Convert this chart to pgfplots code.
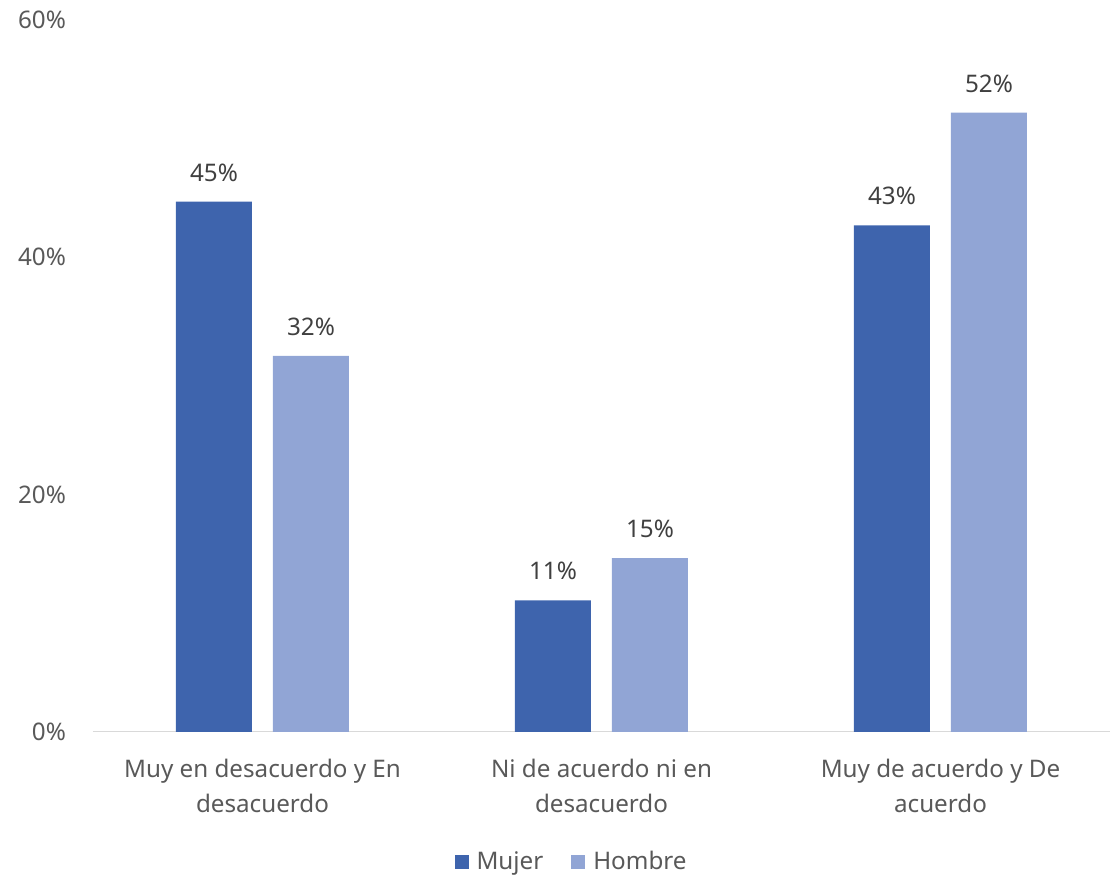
\documentclass[border=0pt]{standalone}
\usepackage{fontspec}
\setmainfont{Noto Sans}
\usepackage{pgfplots}
\pgfplotsset{compat=1.18}
\definecolor{mujer}{HTML}{3E64AD}
\definecolor{hombre}{HTML}{91A5D5}
\definecolor{axtext}{HTML}{595959}
\definecolor{lbltext}{HTML}{404040}
\definecolor{axgray}{HTML}{D9D9D9}
\newcommand{\myfont}{\fontsize{12.1pt}{17.5pt}\selectfont}
\begin{document}
\begin{tikzpicture}
\begin{axis}[
  scale only axis,
  width=508.5pt, height=356pt,
  xmin=-0.5, xmax=2.5,
  ymin=0, ymax=60,
  ybar, bar width=38pt,
  xtick={0,1,2},
  xticklabels={{Muy en desacuerdo y En\\desacuerdo},{Ni de acuerdo ni en\\desacuerdo},{Muy de acuerdo y De\\acuerdo}},
  xticklabel style={align=center, font=\myfont, text=axtext, yshift=-10pt},
  ytick={0,20,40,60},
  yticklabel={\pgfmathprintnumber{\tick}\%},
  yticklabel style={font=\myfont, text=axtext, xshift=-10pt},
  /pgf/number format/assume math mode=true,
  tick style={draw=none},
  major tick length=0pt,
  axis line style={draw=none},
  nodes near coords={\pgfmathprintnumber[fixed,precision=0]{\pgfplotspointmeta}\%},
  nodes near coords style={font=\myfont, text=lbltext, yshift=6.5pt},
  legend style={at={(0.4735,-0.1826)}, anchor=center, draw=none, legend columns=2,
    font=\myfont, text=axtext, /tikz/every even column/.append style={column sep=10pt},
    nodes={inner xsep=4pt}},
  legend image code/.code={\fill[#1] (0pt,-3.5pt) rectangle (7pt,3.5pt);},
]
\draw[color=axgray, line width=0.75pt] (rel axis cs:0,0) -- (rel axis cs:1,0);
\addplot[fill=mujer, draw=none, bar shift=-24.25pt] coordinates {(0,44.7) (1,11.1) (2,42.7)};
\addlegendentry{Mujer}
\addplot[fill=hombre, draw=none, bar shift=24.25pt] coordinates {(0,31.7) (1,14.65) (2,52.2)};
\addlegendentry{Hombre}
\coordinate (bl) at (rel axis cs:-0.09145,-0.19803);
\coordinate (tr) at (rel axis cs:1.0059,1.02809);
\end{axis}
\path (bl) rectangle (tr);
\end{tikzpicture}
\end{document}
